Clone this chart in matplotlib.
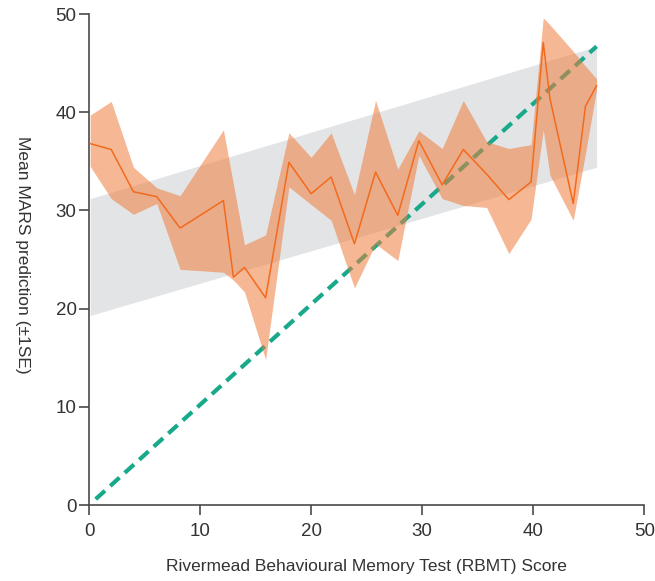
import matplotlib
matplotlib.use("Agg")
import matplotlib.pyplot as plt
from matplotlib import font_manager

# ---- data ----
rbmt = [0.1, 2.0, 4.0, 6.1, 8.2, 12.1, 13.0, 14.0, 15.9, 18.0, 20.0, 21.8, 23.9,
        25.8, 27.8, 29.7, 31.8, 33.7, 35.8, 37.8, 39.8, 40.9, 41.5, 43.6, 44.7, 45.7]
mars_mean = [36.8, 36.2, 31.9, 31.4, 28.2, 31.0, 23.2, 24.2, 21.1, 34.9, 31.7, 33.4, 26.6,
             33.9, 29.5, 37.1, 32.6, 36.2, 33.7, 31.1, 32.9, 47.1, 41.4, 30.7, 40.6, 42.7]
mars_upper = [39.7, 41.1, 34.4, 32.3, 31.5, 38.2, 32.7, 26.5, 27.5, 37.9, 35.4, 37.9, 31.6,
              41.2, 34.2, 38.1, 36.3, 41.2, 37.0, 36.3, 36.7, 49.6, 48.9, 46.2, 44.7, 43.4]
mars_lower = [34.5, 31.2, 29.6, 30.7, 24.0, 23.7, 22.9, 21.7, 14.8, 32.4, 30.6, 29.0, 22.1,
              26.6, 24.9, 35.6, 31.2, 30.5, 30.3, 25.6, 29.1, 38.2, 33.6, 29.0, 35.8, 42.3]

band_x = [0.1, 45.7]
band_upper = [31.2, 46.7]
band_lower = [19.3, 34.4]

ref_x = [0.6, 45.7]
ref_y = [0.6, 46.7]

xticks = [0, 10, 20, 30, 40, 50]
yticks = [0, 10, 20, 30, 40, 50]

# ---- font ----
names = {f.name for f in font_manager.fontManager.ttflist}
fam = ["Liberation Sans Narrow", "DejaVu Sans"] if "Liberation Sans Narrow" in names else ["Liberation Sans", "DejaVu Sans"]
plt.rcParams["font.family"] = fam

fig = plt.figure(figsize=(6.55, 5.81), dpi=100)
ax = fig.add_axes([0.1359, 0.1308, 0.8478, 0.8451])

ax.fill_between(band_x, band_lower, band_upper, color="#e3e4e6", lw=0, zorder=1)
ax.plot(ref_x, ref_y, color="#17a98a", lw=3.0, dashes=(3.0, 1.7), zorder=2,
        solid_capstyle="butt", dash_capstyle="butt")
ax.fill_between(rbmt, mars_lower, mars_upper, color="#f07c3c", alpha=0.55, lw=0, zorder=3)
ax.plot(rbmt, mars_mean, color="#f26b1d", lw=1.1, zorder=4)

ax.set_xlim(0, 50)
ax.set_ylim(0, 50)
ax.set_xticks(xticks)
ax.set_yticks(yticks)

for s in ["top", "right"]:
    ax.spines[s].set_visible(False)
for s in ["left", "bottom"]:
    ax.spines[s].set_color("#4a4a4a")
    ax.spines[s].set_linewidth(1.2)

ax.tick_params(axis="both", direction="out", length=7, width=1.2, color="#4a4a4a",
               labelsize=13.5, labelcolor="#333333")
ax.tick_params(axis="x", pad=6)
ax.tick_params(axis="y", pad=2)

ax.set_xlabel("Rivermead Behavioural Memory Test (RBMT) Score", fontsize=12.5,
              color="#333333", va="center")
ax.xaxis.set_label_coords(0.5, -0.126)
ax.set_ylabel("Mean MARS prediction (\u00b11SE)", fontsize=12.5, color="#333333",
              rotation=270, va="center")
ax.yaxis.set_label_coords(-0.12, 0.51)

fig.savefig("out.png", dpi=100)
